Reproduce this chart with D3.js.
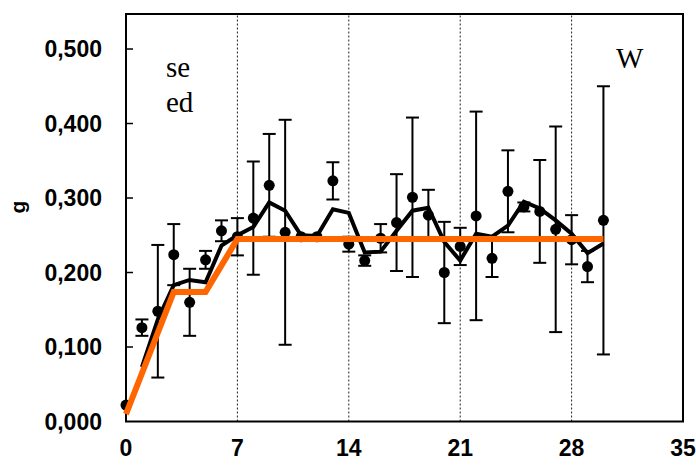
<!DOCTYPE html>
<html>
<head>
<meta charset="utf-8">
<script src="https://cdn.jsdelivr.net/npm/d3@7"></script>
<style>
  html, body { margin: 0; padding: 0; background: #fff; }
  svg { display: block; }
</style>
</head>
<body>
<svg id="chart" width="696" height="472"></svg>
<script>
// ---- data ----
const days = [0,1,2,3,4,5,6,7,8,9,10,11,12,13,14,15,16,17,18,19,20,21,22,23,24,25,26,27,28,29,30];
const means = [0.022,0.126,0.148,0.224,0.160,0.217,0.256,0.248,0.273,0.317,0.254,0.248,0.248,0.323,0.238,0.216,0.246,0.267,0.301,0.277,0.200,0.235,0.276,0.219,0.309,0.288,0.282,0.258,0.244,0.208,0.270];
const errors = [0.000,0.011,0.089,0.041,0.045,0.012,0.014,0.025,0.076,0.069,0.151,0.000,0.000,0.025,0.010,0.007,0.019,0.065,0.107,0.034,0.068,0.025,0.140,0.025,0.055,0.006,0.069,0.138,0.033,0.021,0.180];
const avgDays = [1,2,3,4,5,6,7,8,9,10,11,12,13,14,15,16,17,18,19,20,21,22,23,24,25,26,27,28,29,30];
const avgVals = [0.073,0.137,0.183,0.190,0.187,0.236,0.250,0.261,0.294,0.283,0.250,0.249,0.285,0.280,0.227,0.228,0.256,0.283,0.287,0.241,0.216,0.252,0.248,0.263,0.295,0.286,0.270,0.252,0.226,0.239];
const fitDays = [0,3,5,7,30];
const fitVals = [0.010,0.174,0.174,0.245,0.245];
const xTicks = [0,7,14,21,28,35];
const yTicks = [0.1,0.2,0.3,0.4,0.5];
const yLabels = [0,0.1,0.2,0.3,0.4,0.5];
const fmt = v => v.toFixed(3).replace('.', ',');

// ---- layout ----
const svg = d3.select('#chart');
const x = d3.scaleLinear().domain([0, 35]).range([126, 683]);
const y = d3.scaleLinear().domain([0, 0.547]).range([421.5, 14]);

// gridlines (dotted) at 7,14,21,28
svg.append('g').selectAll('line').data([7,14,21,28]).join('line')
  .attr('x1', d => x(d)).attr('x2', d => x(d))
  .attr('y1', y(0)).attr('y2', y(0.547))
  .attr('stroke', '#222').attr('stroke-width', 1).attr('stroke-dasharray', '2,2');

// y ticks (inside)
svg.append('g').selectAll('line').data(yTicks).join('line')
  .attr('x1', x(0)).attr('x2', x(0) + 7)
  .attr('y1', d => y(d)).attr('y2', d => y(d))
  .attr('stroke', '#000').attr('stroke-width', 1.5);

// frame
svg.append('rect')
  .attr('x', x(0)).attr('y', y(0.547))
  .attr('width', x(35) - x(0)).attr('height', y(0) - y(0.547))
  .attr('fill', 'none').attr('stroke', '#000').attr('stroke-width', 2);

// y labels
svg.append('g').selectAll('text').data(yLabels).join('text')
  .attr('x', 102).attr('y', d => y(d)).attr('dy', '0.36em')
  .attr('text-anchor', 'end')
  .attr('font-family', 'Liberation Sans, Arial, sans-serif')
  .attr('font-weight', 'bold').attr('font-size', 23)
  .text(fmt);

// x labels
svg.append('g').selectAll('text').data(xTicks).join('text')
  .attr('x', d => x(d)).attr('y', 456)
  .attr('text-anchor', 'middle')
  .attr('font-family', 'Liberation Sans, Arial, sans-serif')
  .attr('font-weight', 'bold').attr('font-size', 23)
  .text(d => d);

// y-axis title
svg.append('text')
  .attr('transform', 'translate(25,207) rotate(-90)')
  .attr('text-anchor', 'middle')
  .attr('font-family', 'Liberation Sans, Arial, sans-serif')
  .attr('font-weight', 'bold').attr('font-size', 21)
  .text('g');

// annotations
const serif = 'Liberation Serif, Times New Roman, serif';
svg.append('text').attr('x', 166).attr('y', 77).attr('font-family', serif).attr('font-size', 29).text('se');
svg.append('text').attr('x', 166).attr('y', 112).attr('font-family', serif).attr('font-size', 29).text('ed');
svg.append('text').attr('x', 616).attr('y', 68).attr('font-family', serif).attr('font-size', 29).text('W');

// error bars
const eb = svg.append('g').attr('stroke', '#000').attr('stroke-width', 2);
days.forEach((d, i) => {
  if (errors[i] <= 0) return;
  const lo = means[i] - errors[i], hi = means[i] + errors[i];
  eb.append('line').attr('x1', x(d)).attr('x2', x(d)).attr('y1', y(lo)).attr('y2', y(hi));
  eb.append('line').attr('x1', x(d) - 6.5).attr('x2', x(d) + 6.5).attr('y1', y(lo)).attr('y2', y(lo));
  eb.append('line').attr('x1', x(d) - 6.5).attr('x2', x(d) + 6.5).attr('y1', y(hi)).attr('y2', y(hi));
});

// dots
svg.append('g').selectAll('circle').data(days).join('circle')
  .attr('cx', (d) => x(d)).attr('cy', (d, i) => y(means[i]))
  .attr('r', 5.5).attr('fill', '#000');

// moving-average line
const line = d3.line().x(d => x(d[0])).y(d => y(d[1]));
svg.append('path')
  .attr('d', line(avgDays.map((d, i) => [d, avgVals[i]])))
  .attr('fill', 'none').attr('stroke', '#000').attr('stroke-width', 4)
  .attr('stroke-linejoin', 'miter');

// orange model line
svg.append('path')
  .attr('d', line(fitDays.map((d, i) => [d, fitVals[i]])))
  .attr('fill', 'none').attr('stroke', '#FF6600').attr('stroke-width', 6)
  .attr('stroke-linejoin', 'miter');
</script>
</body>
</html>
